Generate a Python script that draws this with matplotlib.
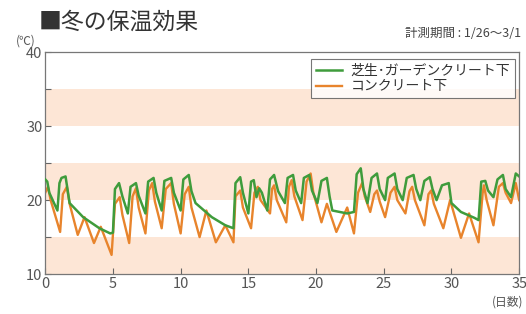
import matplotlib
matplotlib.use("Agg")
import matplotlib.pyplot as plt

plt.rcParams['font.family'] = ['Noto Sans CJK JP', 'DejaVu Sans']

# data (day, temperature)
green_days = [0.0, 0.15, 0.3, 0.9, 1.05, 1.2, 1.5, 1.8, 2.8, 4.0, 4.8, 5.0, 5.15, 5.45, 5.7,
              6.1, 6.3, 6.7, 6.9, 7.4, 7.6, 8.0, 8.2, 8.6, 8.8, 9.3, 9.5, 10.0, 10.2, 10.6,
              10.8, 11.1, 12.3, 13.3, 13.9, 14.05, 14.4, 14.6, 15.0, 15.2, 15.4, 15.6, 15.8,
              16.0, 16.4, 16.6, 16.9, 17.2, 17.7, 17.9, 18.3, 18.5, 18.9, 19.1, 19.5, 19.7,
              20.1, 20.4, 20.8, 21.0, 21.2, 22.3, 22.8, 23.0, 23.3, 23.5, 23.8, 24.1, 24.5,
              24.7, 25.1, 25.3, 25.8, 26.0, 26.4, 26.7, 27.2, 27.4, 27.7, 28.0, 28.4, 28.6,
              28.9, 29.3, 29.8, 30.0, 30.7, 31.7, 32.0, 32.2, 32.5, 32.7, 33.1, 33.4, 33.8,
              34.0, 34.4, 34.75, 35.0]
green_temp = [22.8, 22.5, 21.0, 18.6, 22.3, 23.0, 23.2, 19.6, 17.7, 16.2, 15.5, 15.6, 21.5,
              22.3, 20.5, 18.2, 21.8, 22.3, 20.6, 18.2, 22.5, 23.0, 21.0, 18.6, 22.6, 23.0,
              21.0, 18.6, 22.8, 23.4, 21.2, 19.6, 17.7, 16.6, 16.2, 22.3, 23.1, 21.0, 18.2,
              22.5, 22.7, 20.4, 21.6, 21.0, 18.6, 22.8, 23.4, 21.2, 19.6, 23.0, 23.4, 21.3,
              19.6, 23.0, 23.4, 21.3, 19.6, 22.6, 23.0, 20.5, 18.6, 18.2, 18.4, 23.5, 24.3,
              21.5, 19.6, 23.0, 23.6, 21.5, 20.0, 23.0, 23.6, 21.5, 20.0, 23.0, 23.4, 21.5,
              20.0, 22.6, 23.1, 21.5, 20.0, 22.0, 22.3, 19.6, 18.4, 17.6, 17.3, 22.5, 22.6,
              21.3, 20.4, 22.8, 23.4, 21.5, 20.4, 23.6, 23.2]

orange_days = [0.0, 0.2, 0.4, 1.1, 1.3, 1.6, 1.8, 2.4, 2.9, 3.6, 4.1, 4.9, 5.15, 5.5, 5.7,
               6.2, 6.45, 6.7, 6.9, 7.4, 7.65, 7.9, 8.1, 8.6, 8.9, 9.3, 9.5, 10.0, 10.3,
               10.6, 10.8, 11.4, 11.9, 12.6, 13.3, 13.9, 14.05, 14.4, 14.6, 15.2, 15.45,
               15.7, 15.9, 16.6, 16.75, 16.9, 17.1, 17.8, 18.0, 18.2, 18.4, 19.0, 19.3, 19.6,
               19.8, 20.4, 20.8, 21.5, 22.3, 22.8, 23.1, 23.4, 23.6, 24.0, 24.3, 24.5, 24.7,
               25.1, 25.5, 25.8, 26.0, 26.6, 26.9, 27.1, 27.3, 28.0, 28.3, 28.5, 28.7, 29.4,
               29.9, 30.7, 31.3, 32.0, 32.3, 32.4, 32.6, 33.1, 33.5, 33.8, 34.0, 34.4, 34.75,
               35.0]
orange_temp = [21.0, 21.8, 20.0, 15.7, 20.8, 21.8, 19.5, 15.3, 17.7, 14.2, 16.4, 12.6, 19.5,
               20.4, 18.0, 14.2, 20.5, 21.6, 19.0, 15.5, 21.3, 22.3, 19.8, 16.2, 21.5, 22.3,
               19.5, 15.5, 20.8, 21.8, 19.0, 15.0, 18.6, 14.3, 16.6, 14.3, 20.5, 21.3, 19.0,
               16.2, 21.0, 21.8, 20.0, 18.2, 21.5, 22.0, 20.0, 17.0, 21.8, 22.7, 20.5, 17.3,
               22.5, 23.6, 21.0, 17.0, 19.5, 15.7, 19.0, 15.5, 21.0, 22.3, 20.5, 18.4, 20.8,
               21.3, 19.8, 17.7, 21.0, 21.8, 20.0, 18.2, 21.2, 21.8, 20.0, 16.6, 20.8, 21.3,
               19.5, 16.2, 20.0, 14.9, 18.2, 14.3, 20.9, 22.0, 20.0, 16.6, 21.8, 22.3, 21.0,
               19.6, 22.3, 20.0]

bands = [(10, 15), (20, 25), (30, 35)]
x_ticks = [0, 5, 10, 15, 20, 25, 30, 35]
y_ticks = [10, 20, 30, 40]
labels = ['芝生･ガーデンクリート下', 'コンクリート下']

fig = plt.figure(figsize=(5.26, 3.14), dpi=100)
ax = fig.add_axes([0.086, 0.127, 0.901, 0.707])

for lo, hi in bands:
    ax.axhspan(lo, hi, color='#fde6d6', lw=0, zorder=0)

ax.plot(green_days, green_temp, color='#3f9c3c', lw=1.8, label=labels[0], zorder=3)
ax.plot(orange_days, orange_temp, color='#e8842c', lw=1.7, label=labels[1], zorder=2)

ax.set_xlim(0, 35)
ax.set_ylim(10, 40)
ax.set_xticks(x_ticks)
ax.set_yticks(y_ticks)
ax.set_yticks([15, 25, 35], minor=True)
ax.tick_params(direction='in', length=4, width=0.8, colors='#666666', labelsize=10.5,
               labelcolor='#555555', pad=2)
ax.tick_params(which='minor', direction='in', length=4, width=0.8, colors='#666666')
for s in ax.spines.values():
    s.set_color('#777777')
    s.set_linewidth(0.9)

leg = ax.legend(loc='upper right', fontsize=10, frameon=True, fancybox=False,
                handlelength=1.9, borderpad=0.35, labelspacing=0.15, handletextpad=0.6,
                borderaxespad=0.3, bbox_to_anchor=(1.0, 0.99))
leg.get_frame().set_edgecolor('#555555')
leg.get_frame().set_linewidth(0.8)
for t in leg.get_texts():
    t.set_color('#333333')

fig.text(0.073, 0.93, '■冬の保温効果', fontsize=16.5, color='#333333', va='center')
fig.text(0.99, 0.893, '計測期間 : 1/26～3/1', fontsize=9, color='#444444',
         ha='right', va='center')
fig.text(0.03, 0.87, '(℃)', fontsize=8.5, color='#555555', va='center')
fig.text(0.995, 0.038, '(日数)', fontsize=8.5, color='#555555', ha='right', va='center')

fig.savefig('out.png', dpi=100)
